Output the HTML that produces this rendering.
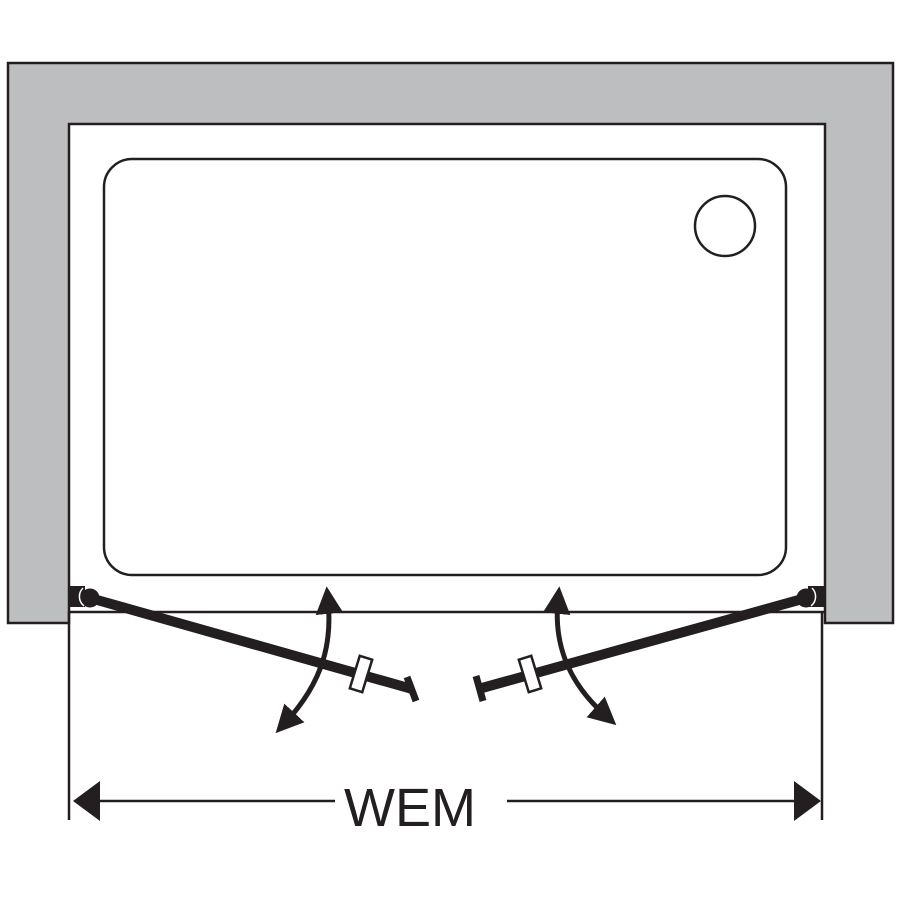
<!DOCTYPE html>
<html><head><meta charset="utf-8"><style>html,body{margin:0;padding:0;background:#fff}svg{display:block}</style></head>
<body>
<svg width="900" height="900" viewBox="0 0 900 900" xmlns="http://www.w3.org/2000/svg">
<defs>
<marker id="ah" viewBox="0 0 10 10" refX="5" refY="5" markerWidth="5.5" markerHeight="5.5" orient="auto-start-reverse" markerUnits="strokeWidth">
<path d="M0,0 L10,5 L0,10 z" fill="#231f20"/>
</marker>
</defs>
<path d="M8,63 H893 V623 H825 V124 H69 V623 H8 Z" fill="#bdbec0" stroke="#231f20" stroke-width="2.5"/>
<line x1="69" y1="612" x2="824" y2="612" stroke="#231f20" stroke-width="2.5"/>
<line x1="69" y1="612" x2="69" y2="820" stroke="#231f20" stroke-width="2.5"/>
<line x1="822" y1="612" x2="822" y2="820" stroke="#231f20" stroke-width="2.5"/>
<rect x="104" y="159" width="682" height="416" rx="28" fill="#fff" stroke="#231f20" stroke-width="2.5"/>
<circle cx="725" cy="226" r="30" fill="#fff" stroke="#231f20" stroke-width="2.5"/>
<rect x="69" y="586" width="16" height="21" fill="#231f20"/>
<rect x="808" y="586" width="16" height="21" fill="#231f20"/>
<!-- left door -->
<line x1="90" y1="598" x2="412" y2="689" stroke="#231f20" stroke-width="10"/>
<circle cx="90" cy="598" r="9.5" fill="#231f20"/>
<path d="M83,588 A12,12 0 0 0 84,606" fill="none" stroke="#fff" stroke-width="1.5"/>
<line x1="407" y1="677" x2="416" y2="701" stroke="#231f20" stroke-width="7"/>
<rect x="-6.5" y="-17" width="13" height="34" fill="#fff" stroke="#231f20" stroke-width="2.5" transform="translate(361,674) rotate(17)"/>
<path d="M328,600 C332,640 325,680 285,723" fill="none" stroke="#231f20" stroke-width="5" marker-start="url(#ah)" marker-end="url(#ah)"/>
<!-- right door -->
<line x1="806" y1="598" x2="482" y2="688" stroke="#231f20" stroke-width="10"/>
<circle cx="806" cy="598" r="9.5" fill="#231f20"/>
<path d="M812,588 A12,12 0 0 1 811,606" fill="none" stroke="#fff" stroke-width="1.5"/>
<line x1="476" y1="676" x2="483" y2="701" stroke="#231f20" stroke-width="7"/>
<rect x="-6.5" y="-17" width="13" height="34" fill="#fff" stroke="#231f20" stroke-width="2.5" transform="translate(530,674) rotate(-17)"/>
<path d="M558,600 C554,640 565,680 606,716" fill="none" stroke="#231f20" stroke-width="5" marker-start="url(#ah)" marker-end="url(#ah)"/>
<line x1="95" y1="801" x2="335" y2="801" stroke="#231f20" stroke-width="2.5"/>
<line x1="507" y1="801" x2="800" y2="801" stroke="#231f20" stroke-width="2.5"/>
<path d="M73,801 L100,781 L100,821 Z" fill="#231f20"/>
<path d="M821,801 L794,781 L794,821 Z" fill="#231f20"/>
<text x="410" y="826" font-family="Liberation Sans, sans-serif" font-size="54" fill="#231f20" text-anchor="middle">WEM</text>
</svg>
</body></html>
